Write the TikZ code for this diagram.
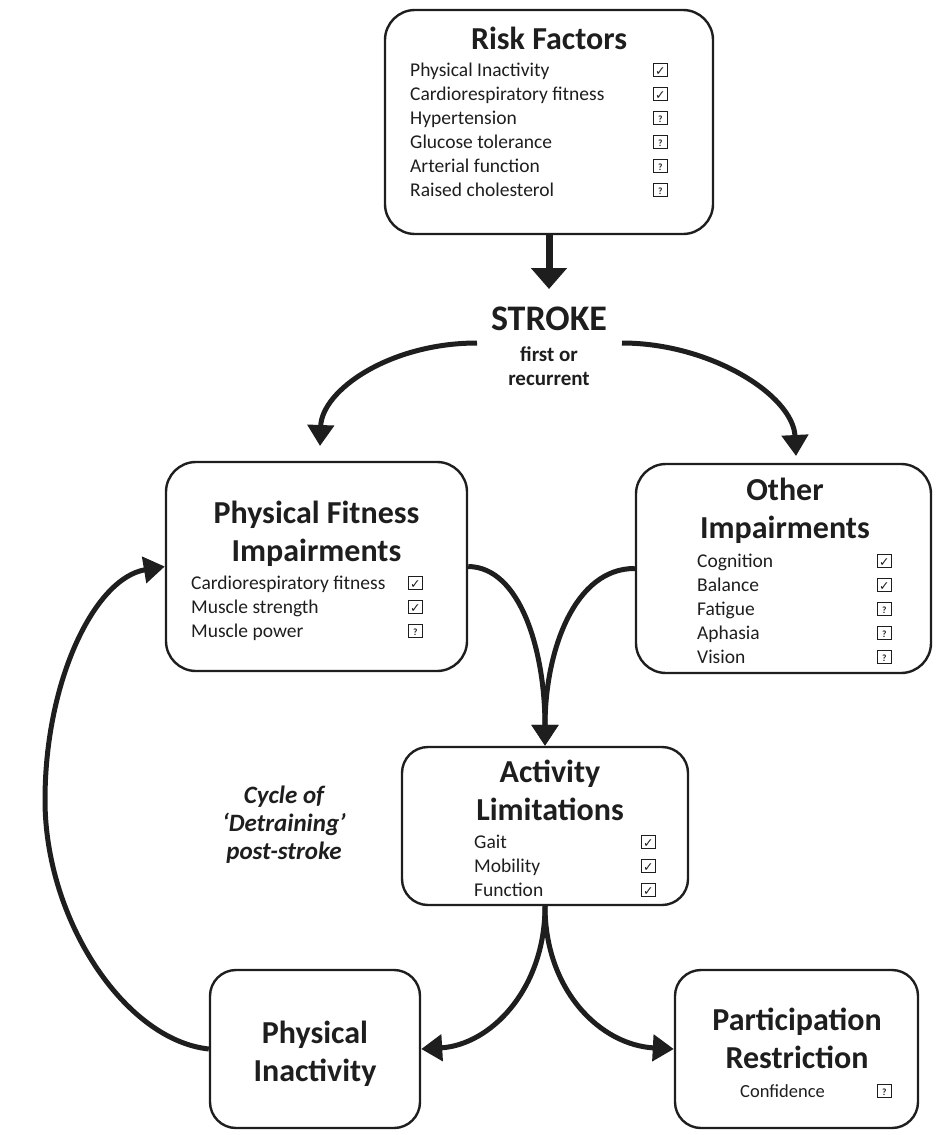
\documentclass[tikz,border=0pt]{standalone}
\usepackage{fontspec}
\setmainfont{Carlito}
\newfontfamily\dejavu{DejaVu Sans}
\usetikzlibrary{arrows.meta}
\definecolor{ink}{HTML}{1E1E1E}
\newcommand\itembox[1]{{\fboxsep=0pt\fboxrule=0.9pt\fbox{\makebox[12.5pt][c]{\rule{0pt}{12.5pt}#1}}}}
\newcommand\yesbox{\itembox{\raisebox{0.5pt}{\dejavu\fontsize{12.5}{12.5}\selectfont ✓}}}
\newcommand\unkbox{\itembox{\raisebox{2pt}{\fontsize{9.5}{9.5}\selectfont\bfseries ?}}}
\newcommand\titlefont{\fontsize{32}{38}\selectfont\bfseries}
\newcommand\itemfont{\fontsize{19.5}{24}\selectfont}
\begin{document}
\begin{tikzpicture}[x=1pt,y=-1pt,line join=round,
  box/.style={draw=ink,line width=2.4pt,rounded corners=30pt,inner sep=0pt},
  ttl/.style={inner sep=0pt,anchor=base,text=ink,font=\titlefont},
  lst/.style={inner sep=0pt,anchor=base west,text=ink,font=\itemfont},
  flow/.style={draw=ink,line width=5pt,-{Triangle[width=26pt,length=21pt]}},
  stem/.style={draw=ink,line width=7pt,-{Triangle[width=35pt,length=21pt]}}]
\useasboundingbox (0,0) rectangle (935,1135);

% boxes
\node[box,minimum width=328pt,minimum height=224pt] (rf) at (549,122) {};
\node[box,minimum width=301pt,minimum height=209pt] (pfi) at (316.5,566.5) {};
\node[box,minimum width=295pt,minimum height=209pt] (oth) at (783.5,568.5) {};
\node[box,minimum width=286pt,minimum height=158pt,rounded corners=26pt] (al) at (545,826) {};
\node[box,minimum width=210pt,minimum height=158pt,rounded corners=26pt] (pi) at (315,1049) {};
\node[box,minimum width=243pt,minimum height=158pt,rounded corners=26pt] (pr) at (796.5,1049) {};

% Risk factors
\node[ttl] (rft) at (549,49) {Risk Factors};
\node[lst] (rfl) at (410,76) {\begin{tabular}[t]{@{}p{243pt}@{}c@{}}
Physical Inactivity & \yesbox\\
Cardiorespiratory fitness & \yesbox\\
Hypertension & \unkbox\\
Glucose tolerance & \unkbox\\
Arterial function & \unkbox\\
Raised cholesterol & \unkbox
\end{tabular}};

% Stroke
\coordinate (st) at (549,289);
\node[inner sep=0pt,anchor=base,text=ink,font=\fontsize{36}{40}\selectfont\bfseries] (stroke) at (549,330) {STROKE};
\node[inner sep=0pt,anchor=base,text=ink,font=\fontsize{21}{24}\selectfont\bfseries] (strokesub) at (549,361)
  {\begin{tabular}[t]{@{}c@{}}first or\\recurrent\end{tabular}};
\coordinate (sl) at (477,343);
\coordinate (sr) at (622,343);
\coordinate (pfitip) at (320,446);
\coordinate (othtip) at (796,456);

% Physical fitness impairments
\node[ttl] (pfit) at (316.5,523) {\begin{tabular}[t]{@{}c@{}}Physical Fitness\\Impairments\end{tabular}};
\node[lst] (pfil) at (191,589) {\begin{tabular}[t]{@{}p{217pt}@{}c@{}}
Cardiorespiratory fitness & \yesbox\\
Muscle strength & \yesbox\\
Muscle power & \unkbox
\end{tabular}};

% Other impairments
\node[ttl] (otht) at (785,500) {\begin{tabular}[t]{@{}c@{}}Other\\Impairments\end{tabular}};
\node[lst] (othl) at (697,567) {\begin{tabular}[t]{@{}p{180pt}@{}c@{}}
Cognition & \yesbox\\
Balance & \yesbox\\
Fatigue & \unkbox\\
Aphasia & \unkbox\\
Vision & \unkbox
\end{tabular}};

% Activity limitations
\node[ttl] (alt) at (550,782) {\begin{tabular}[t]{@{}c@{}}Activity\\Limitations\end{tabular}};
\node[lst] (all) at (474,848) {\begin{tabular}[t]{@{}p{167pt}@{}c@{}}
Gait & \yesbox\\
Mobility & \yesbox\\
Function & \yesbox
\end{tabular}};

% Physical inactivity
\node[ttl] (pit) at (315,1043) {\begin{tabular}[t]{@{}c@{}}Physical\\Inactivity\end{tabular}};

% Participation restriction
\node[ttl] (prt) at (797,1030) {\begin{tabular}[t]{@{}c@{}}Participation\\Restriction\end{tabular}};
\node[lst,font=\fontsize{18.5}{22}\selectfont] (prl) at (740,1097) {\begin{tabular}[t]{@{}p{137pt}@{}c@{}}
Confidence & \unkbox
\end{tabular}};

% Cycle label
\node[inner sep=0pt,anchor=base,text=ink,font=\fontsize{25}{28}\selectfont\bfseries\itshape] (cyc) at (284,803)
  {\begin{tabular}[t]{@{}c@{}}Cycle of\\‘Detraining’\\post-stroke\end{tabular}};

% connectors
\draw[stem] (rf.south) -- (st);
\draw[flow] (sl) .. controls (390,343) and (322,390) .. (pfitip);
\draw[flow] (sr) .. controls (710,343) and (793,395) .. (othtip);
\draw[flow] (pfi.east) .. controls (520,567) and (545,650) .. (al.north);
\draw[flow] (oth.west) .. controls (575,568) and (545,650) .. (al.north);
\draw[flow] (al.south) .. controls (545,990) and (490,1045) .. (pi.east);
\draw[flow] (al.south) .. controls (545,990) and (600,1045) .. (pr.west);
\draw[flow] (pi.west) .. controls (125,1040) and (45,920) .. (45,800)
  .. controls (45,680) and (95,578) .. (pfi.west);
\end{tikzpicture}
\end{document}
